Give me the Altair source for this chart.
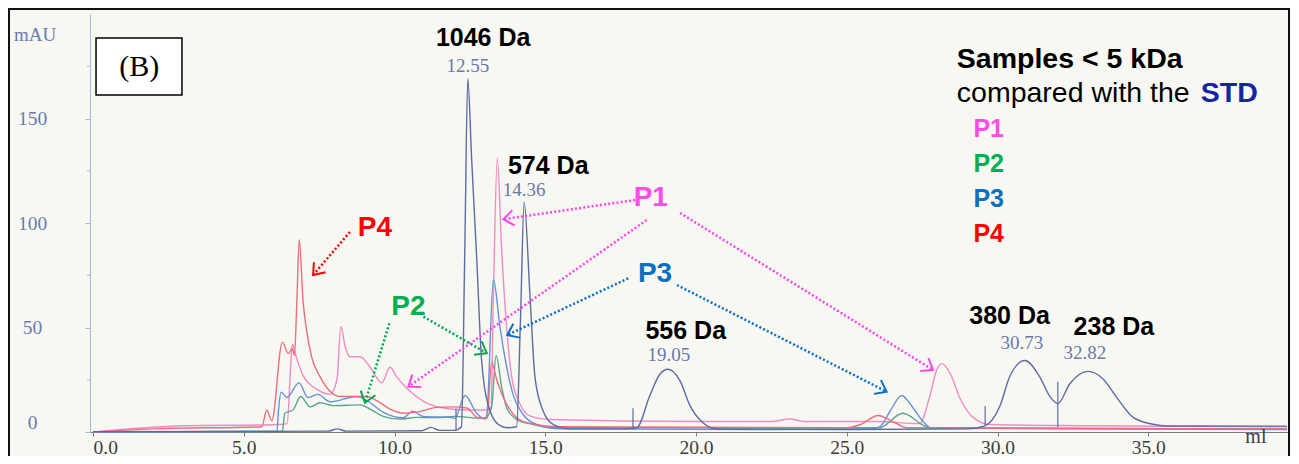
import math
import altair as alt
import pandas as pd

SANS = "Liberation Sans"
SERIF = "Liberation Serif"

# ---------------- chromatogram traces (ml, mAU) ----------------
std_ml = [0.0, 5.0, 7.8, 8.1, 8.4, 10.9, 11.2, 11.5, 12.0, 12.22, 12.33, 12.43, 12.56, 12.73, 12.89,
          13.17, 13.5, 13.76, 14.05, 14.18, 14.3, 14.49, 14.66, 14.93, 15.26, 15.8, 17.5, 18.03,
          18.47, 18.8, 19.07, 19.47, 19.8, 20.23, 20.7, 25.0, 29.0, 29.58, 30.08, 30.41, 30.91,
          31.4, 31.74, 32.0, 32.4, 33.0, 33.5, 33.95, 34.5, 35.16, 35.6, 39.6]
std_mau = [0.2, 0.3, 0.4, 1.5, 0.4, 0.6, 2.2, 0.8, 0.8, 2.5, 86, 169, 130, 82, 34,
           10, 3, 2, 2.5, 55, 110, 66, 26, 10, 3.6, 1.5, 1.5, 2,
           17.5, 27.6, 30, 24.5, 12.6, 4.4, 1.4, 1.2, 1.5, 2.9, 12.4, 26.7, 34.2,
           26.4, 16.9, 13.6, 23.1, 29, 25.4, 16.6, 7, 3.7, 2.9, 2.8]

p1_ml = [0.0, 3.0, 6.0, 6.44, 6.55, 6.61, 6.76, 6.97, 7.42, 7.86, 8.09, 8.22, 8.36, 8.52, 8.86,
         9.19, 9.58, 9.85, 10.07, 10.4, 10.96, 11.62, 12.4, 13.0, 13.2, 13.28, 13.41, 13.55,
         13.72, 13.89, 14.16, 14.49, 15.16, 20.0, 22.5, 23.1, 23.6, 26.0, 27.42, 27.76, 27.98,
         28.15, 28.43, 28.76, 29.19, 29.75, 33.0, 39.6]
p1_mau = [0.0, 3.0, 3.5, 4, 30, 42, 35, 27, 20.5, 18, 25, 50.5, 41, 36, 36,
          31, 23.5, 31, 26.5, 21, 14.7, 11.5, 10.5, 10.5, 11.5, 66, 131, 88,
          50, 26, 13.5, 7.7, 6, 5, 5, 6.2, 5, 5, 4, 17.5, 29.5,
          32.7, 28, 16, 7, 3.6, 3, 2.5]

p2_ml = [0.0, 6.28, 6.36, 6.63, 6.89, 7.2, 7.53, 7.96, 8.86, 9.19, 9.62, 10.18, 10.74, 11.4,
         12.0, 12.9, 13.05, 13.22, 13.37, 13.56, 13.72, 14.05, 14.6, 15.5, 26.1, 26.2, 26.86,
         27.53, 27.76, 39.6]
p2_mau = [0.0, 0.3, 9, 10.5, 17, 12, 14, 12.6, 13, 11, 7.5, 6.2, 7, 6.9,
          7.5, 6.5, 7, 12, 36.5, 21, 11.6, 6, 3.6, 2, 2, 2.6, 9,
          3.3, 1.9, 1.5]

p3_ml = [0.0, 6.1, 6.15, 6.24, 6.43, 6.83, 7.13, 7.46, 7.86, 8.75, 9.19, 9.62, 10.28, 10.61,
         10.94, 11.84, 12.0, 12.34, 12.73, 13.0, 13.06, 13.28, 13.5, 13.72, 13.93, 14.26, 14.71,
         15.5, 22.0, 25.8, 26.1, 26.43, 26.82, 27.2, 27.53, 27.82, 39.6]
p3_mau = [0.0, 0.3, 10, 19, 16.5, 23.5, 16.5, 18, 14.5, 17, 14, 9.5, 6.8, 10,
          7.5, 7, 6.5, 17.5, 8.8, 6.2, 8, 73, 50, 31, 18, 8.5, 3.6,
          1.5, 1.2, 1.5, 2.6, 9.8, 17.5, 11.5, 5, 1.8, 1.2]

p4_ml = [0.0, 2.0, 5.6, 5.76, 5.93, 6.28, 6.48, 6.61, 6.68, 6.76, 6.84, 6.97, 7.08, 7.25, 7.53,
         7.86, 8.19, 8.52, 9.08, 9.41, 9.85, 10.3, 10.74, 11.4, 11.84, 12.4, 12.74, 13.07, 13.22,
         13.39, 13.61, 13.94, 14.38, 15.5, 25.0, 25.44, 26.04, 26.53, 26.99, 39.6]
p4_mau = [0.0, 1.5, 2.5, 10.5, 5.4, 43, 37.5, 40, 36.7, 62, 92, 62, 49, 36, 26.5,
          19.5, 17, 17, 17, 15, 11, 9, 9.5, 11.8, 12, 11.5, 7, 6.5, 33.5,
          25, 16.5, 8.5, 4.5, 2.5, 2, 3.5, 7.9, 5, 2, 1.5]

trace_names = ["P1", "P2", "P3", "P4", "STD"]
trace_colors = ["#ef8cc2", "#5aa393", "#6a8fdc", "#ec6e7c", "#5d6aa5"]

# integration marker lines of the STD run
mark_ml = [12.04, 17.91, 29.59, 32.0]
mark_lo = [0.8, 1.3, 2.9, 2.4]
mark_hi = [11.3, 11.4, 12.4, 24.1]

# axis ticks
x_ticks = [0, 5, 10, 15, 20, 25, 30, 35]
y_ticks = [0, 50, 100, 150]
y_minor = [25, 75, 125, 175]

# peak annotations
mw_text = ["1046 Da", "574 Da", "556 Da", "380 Da", "238 Da"]
mw_x = [12.94, 15.1, 19.66, 30.4, 33.86]
mw_y = [188.3, 127.1, 48.2, 55.5, 50.4]
rt_text = ["12.55", "14.36", "19.05", "30.73", "32.82"]
rt_x = [12.43, 14.3, 19.1, 30.81, 32.9]
rt_y = [175.1, 115.9, 36.8, 42.4, 37.6]

# legend block
legend_text = ["P1", "P2", "P3", "P4"]
legend_colors = ["#ff4ce6", "#00b050", "#0a70c0", "#ff0000"]
legend_x = [29.2, 29.2, 29.2, 29.2]
legend_y = [141.3, 124.5, 107.8, 91.0]

# in-plot sample labels
plabel_text = ["P4", "P2", "P1", "P3"]
plabel_colors = ["#ff0000", "#00b050", "#ff4ce6", "#0a70c0"]
plabel_x = [9.35, 10.46, 18.5, 18.64]
plabel_y = [97.7, 59.8, 112.2, 75.6]

# dotted arrows (start -> tip)
arr_x1 = [8.52, 9.83, 10.96, 17.98, 18.36, 19.47, 17.75, 19.37]
arr_y1 = [95.7, 52.0, 55.2, 111.0, 101.4, 104.8, 73.5, 70.3]
arr_x2 = [7.30, 9.02, 13.06, 13.61, 10.46, 27.86, 13.74, 26.32]
arr_y2 = [75.1, 14.0, 37.7, 101.8, 21.7, 29.7, 46.4, 19.3]
arr_col = ["#ff0000", "#00a64f", "#00a64f", "#ff44ee", "#ff44ee", "#ff44ee", "#0a6ec8", "#0a6ec8"]

# ---------------- layout ----------------
W, H = 1198, 418
X_DOM = [-0.1, -0.1 + W / 30.15]
Y_DOM = [0, 200]
PX_ML = W / (X_DOM[1] - X_DOM[0])
PX_MAU = H / (Y_DOM[1] - Y_DOM[0])

xsc = alt.Scale(domain=X_DOM, nice=False, zero=False)
ysc = alt.Scale(domain=Y_DOM, nice=False, zero=False)

XAX = alt.Axis(values=x_ticks, format=".1f", title=None, grid=False,
               labelAlign={"condition": {"test": "datum.value == 0", "value": "left"},
                           "value": "center"},
               labelFont=SERIF, labelFontSize=19.5, labelColor="#3c3c3c",
               domainColor="#7a7a7a", tickColor="#7a7a7a", tickSize=4, labelPadding=2)
YAX = alt.Axis(values=y_ticks, title=None, grid=False, labelAlign="center", labelFlush=True,
               labelFont=SERIF, labelFontSize=19.5, labelColor="#6b7bb0", labelPadding=53,
               domainColor="#a9b6e0", tickColor="#a9b6e0", tickSize=5)


def X(field):
    return alt.X(field, scale=xsc, axis=XAX, title=None)


def Y(field):
    return alt.Y(field, scale=ysc, axis=YAX, title=None)


rows = []
for name, xs, ys in [("P1", p1_ml, p1_mau), ("P2", p2_ml, p2_mau), ("P3", p3_ml, p3_mau),
                     ("P4", p4_ml, p4_mau), ("STD", std_ml, std_mau)]:
    for i, (a, b) in enumerate(zip(xs, ys)):
        rows.append({"trace": name, "ml": a, "mAU": b, "i": i})
df = pd.DataFrame(rows)

lines = alt.Chart(df).mark_line(strokeWidth=1.4, interpolate="monotone").encode(
    x=X("ml:Q"),
    y=Y("mAU:Q"),
    color=alt.Color("trace:N", scale=alt.Scale(domain=trace_names, range=trace_colors), legend=None),
    order="i:Q",
)

mk = pd.DataFrame({"x": mark_ml, "lo": mark_lo, "hi": mark_hi})
markers = alt.Chart(mk).mark_rule(color="#5d6aa5", strokeWidth=1.2).encode(
    x=X("x:Q"), y=Y("lo:Q"), y2="hi:Q",
)

minor = alt.Chart(pd.DataFrame({"v": y_minor})).mark_rule(color="#a9b6e0", strokeWidth=1).encode(
    y=Y("v:Q"), x=alt.value(-3), x2=alt.value(0),
)


def text_layer(labels, xs, ys, size, color, weight="normal", font=SANS, align="center",
               baseline="middle", colors=None):
    d = pd.DataFrame({"t": labels, "x": xs, "y": ys})
    enc = dict(x=X("x:Q"), y=Y("y:Q"), text="t:N")
    if colors is not None:
        d["c"] = colors
        enc["color"] = alt.Color("c:N", scale=None)
        return alt.Chart(d).mark_text(fontSize=size, fontWeight=weight, font=font,
                                      align=align, baseline=baseline).encode(**enc)
    return alt.Chart(d).mark_text(fontSize=size, fontWeight=weight, font=font, color=color,
                                  align=align, baseline=baseline).encode(**enc)


mw = text_layer(mw_text, mw_x, mw_y, 25, "#000000", weight="bold")
rt = text_layer(rt_text, rt_x, rt_y, 19, "#6a78aa", font=SERIF)
leg = text_layer(legend_text, legend_x, legend_y, 25, None, weight="bold", align="left",
                 baseline="alphabetic", colors=legend_colors)
head1 = text_layer(["Samples < 5 kDa"], [28.65], [174.0], 28.5, "#000000", weight="bold",
                   align="left", baseline="alphabetic")
head2 = text_layer(["compared with the"], [28.65], [158.0], 28.5, "#000000",
                   align="left", baseline="alphabetic")
head3 = text_layer(["STD"], [36.74], [158.0], 28.5, "#1426a6", weight="bold",
                   align="left", baseline="alphabetic")
plab = text_layer(plabel_text, plabel_x, plabel_y, 28, None, weight="bold", colors=plabel_colors)
unit_y = text_layer(["mAU"], [-1.92], [190.0], 19, "#6b7bb0", font=SERIF)
unit_x = text_layer(["ml"], [38.57], [-2.4], 20, "#3c3c3c", font=SERIF)

# (B) box
bbox = alt.Chart(pd.DataFrame({"x": [0.1], "x2": [2.95], "y": [161.2], "y2": [188.5]})).mark_rect(
    fill="#ffffff", stroke="#000000", strokeWidth=1.5).encode(
    x=X("x:Q"), x2="x2:Q", y=Y("y:Q"), y2="y2:Q")
btxt = text_layer(["(B)"], [1.53], [174.6], 30, "#000000", font=SERIF)

# arrows
ang = []
for a, b, c, d in zip(arr_x1, arr_y1, arr_x2, arr_y2):
    dx = (c - a) * PX_ML
    dy = -(d - b) * PX_MAU
    ang.append(math.degrees(math.atan2(dy, dx)) % 360)
adf = pd.DataFrame({"x1": arr_x1, "y1": arr_y1, "x2": arr_x2, "y2": arr_y2, "c": arr_col, "a": ang})
arrow_lines = alt.Chart(adf).mark_rule(strokeWidth=2.5, strokeDash=[2, 2.2]).encode(
    x=X("x1:Q"), y=Y("y1:Q"), x2="x2:Q", y2="y2:Q", color=alt.Color("c:N", scale=None))
arrow_heads = alt.Chart(adf).mark_point(
    shape="M -1 -0.75 L 0 0 L -1 0.75", filled=False, strokeWidth=2, size=420, opacity=1).encode(
    x=X("x2:Q"), y=Y("y2:Q"),
    color=alt.Color("c:N", scale=None), angle=alt.Angle("a:Q", scale=None))

frame = alt.Chart(pd.DataFrame({"k": [0]})).mark_rect(
    fill=None, stroke="#111111", strokeWidth=2).encode(
    x=alt.value(-81), x2=alt.value(W + 1), y=alt.value(-5), y2=alt.value(480))

chart = alt.layer(
    lines, markers, minor, bbox, btxt, mw, rt, head1, head2, head3, leg, plab,
    arrow_lines, arrow_heads, unit_y, unit_x, frame,
).properties(
    width=W, height=H,
    autosize=alt.AutoSizeParams(type="none"),
    padding={"left": 82, "top": 6, "right": 3, "bottom": 24},
    background="#f8f8f3",
).configure_view(stroke=None)

chart.save("out.html", embed_options={"renderer": "svg", "actions": False})
